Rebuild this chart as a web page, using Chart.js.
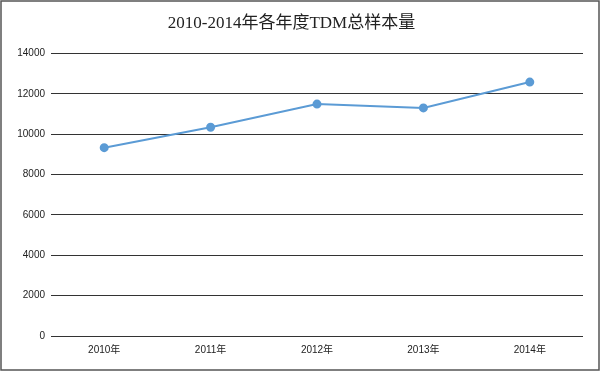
<!DOCTYPE html>
<html>
<head>
<meta charset="utf-8">
<script src="https://cdn.jsdelivr.net/npm/chart.js@4/dist/chart.umd.min.js"></script>
<style>
  html, body { margin: 0; padding: 0; background: #fff; }
  #wrap { width: 600px; height: 371px; }
</style>
</head>
<body>
<div id="wrap"><canvas id="tdmChart" width="600" height="371"></canvas></div>
<script>
const years = ['2010年', '2011年', '2012年', '2013年', '2014年'];
const sampleCounts = [9330, 10340, 11490, 11300, 12580];
const yTicks = [0, 2000, 4000, 6000, 8000, 10000, 12000, 14000];

// gray frame round the whole picture
const frame = {
  id: 'frame',
  beforeDraw(chart) {
    const c = chart.ctx;
    c.save();
    c.fillStyle = '#fff';
    c.fillRect(0, 0, chart.width, chart.height);
    c.restore();
  },
  afterDraw(chart) {
    const c = chart.ctx;
    c.save();
    c.strokeStyle = '#555';
    c.lineWidth = 1.5;
    c.strokeRect(1, 1, chart.width - 2, chart.height - 2);
    c.restore();
  }
};

const ctx = document.getElementById('tdmChart').getContext('2d');
new Chart(ctx, {
  type: 'line',
  data: {
    labels: years,
    datasets: [{
      label: 'TDM总样本量',
      data: sampleCounts,
      borderColor: '#5b9bd5',
      backgroundColor: '#5b9bd5',
      borderWidth: 2,
      pointRadius: 3.5,
      pointHoverRadius: 3.5,
      tension: 0
    }]
  },
  options: {
    responsive: false,
    animation: false,
    layout: { padding: { left: 0, right: 17, top: 0, bottom: 0 } },
    plugins: {
      legend: { display: false },
      tooltip: { enabled: false },
      title: {
        display: true,
        text: '2010-2014年各年度TDM总样本量',
        color: '#222',
        font: { family: '"Liberation Serif", "Noto Sans CJK SC", serif', size: 17, weight: 'normal' },
        padding: { top: 13, bottom: 20 }
      }
    },
    scales: {
      x: {
        offset: true,
        grid: { display: false, drawTicks: false },
        border: { display: false },
        ticks: {
          color: '#222',
          font: { family: '"Liberation Sans", "Noto Sans CJK SC", sans-serif', size: 10 },
          padding: 8,
          maxRotation: 0
        },
        afterFit(scale) { scale.height = 35; }
      },
      y: {
        min: 0,
        max: 14000,
        afterBuildTicks(scale) { scale.ticks = yTicks.map(v => ({ value: v })); },
        grid: { color: '#333', lineWidth: 1, drawTicks: false },
        border: { display: false },
        ticks: {
          color: '#222',
          font: { family: '"Liberation Sans", sans-serif', size: 10 },
          padding: 6,
          callback: v => String(v)
        },
        afterFit(scale) { scale.width = 51; }
      }
    }
  },
  plugins: [frame]
});
</script>
</body>
</html>
